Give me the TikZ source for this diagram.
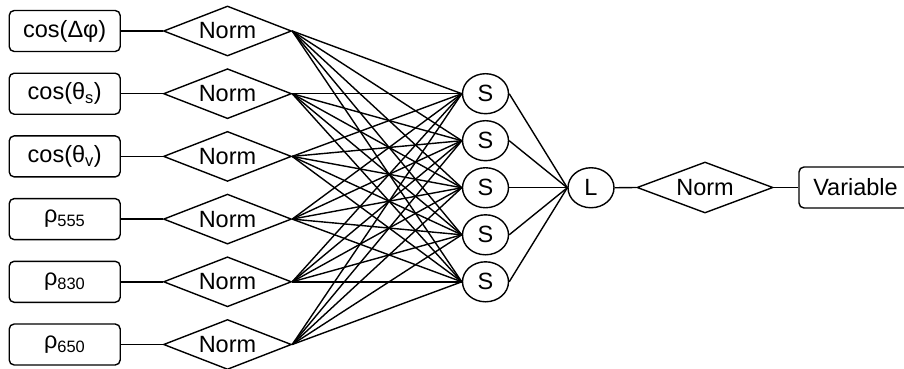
\documentclass[tikz,border=0pt]{standalone}
\usepackage{fontspec}
\setmainfont{Liberation Sans}
\usetikzlibrary{shapes.geometric}
\begin{document}
\begin{tikzpicture}[x=1pt,y=-1pt, line width=1.4pt,
  font=\fontsize{23.5}{27}\selectfont,
  inbox/.style={draw, rounded corners=5pt, minimum width=111pt, minimum height=41pt, inner sep=0pt},
  normd/.style={draw, diamond, aspect=2.56, inner sep=0pt, minimum width=128pt, minimum height=50pt},
  snode/.style={draw, ellipse, inner sep=0pt, minimum width=46pt, minimum height=40pt},
  conn/.style={line width=1.4pt}]
\useasboundingbox (0,0) rectangle (904,369);
% inputs
\node[inbox] (b1) at (64.7,31)    {cos(Δφ)};
\node[inbox] (b2) at (64.7,93.7)  {cos(θ\textsubscript{s})};
\node[inbox] (b3) at (64.7,156.4) {cos(θ\textsubscript{v})};
\node[inbox] (b4) at (64.7,219.1) {ρ\textsubscript{555}};
\node[inbox] (b5) at (64.7,281.8) {ρ\textsubscript{830}};
\node[inbox] (b6) at (64.7,344.5) {ρ\textsubscript{650}};
% norm diamonds
\node[normd] (n1) at (227.5,31)    {Norm};
\node[normd] (n2) at (227.5,93.7)  {Norm};
\node[normd] (n3) at (227.5,156.4) {Norm};
\node[normd] (n4) at (227.5,219.1) {Norm};
\node[normd] (n5) at (227.5,281.8) {Norm};
\node[normd] (n6) at (227.5,344.5) {Norm};
% hidden layer
\node[snode] (s1) at (485.5,93.7)   {S};
\node[snode] (s2) at (485.5,140.7)  {S};
\node[snode] (s3) at (485.5,187.75) {S};
\node[snode] (s4) at (485.5,234.8)  {S};
\node[snode] (s5) at (485.5,281.8)  {S};
% output
\node[snode] (L) at (591,187.75) {L};
\node[normd, aspect=2.67, minimum width=136pt, minimum height=51pt] (no) at (705,187.5) {Norm};
\node[inbox, minimum width=113pt] (var) at (855.5,187.5) {Variable};
% connectors
\foreach \i in {1,...,6} {
  \draw[conn] (b\i.east) -- (n\i.west);
  \foreach \j in {1,...,5} {
    \draw[conn] (n\i.east) -- (s\j.west);
  }
}
\foreach \j in {1,...,5} {
  \draw[conn] (s\j.east) -- (L.west);
}
\draw[conn] (L.east) -- (no.west);
\draw[conn] (no.east) -- (var.west);
\end{tikzpicture}
\end{document}
